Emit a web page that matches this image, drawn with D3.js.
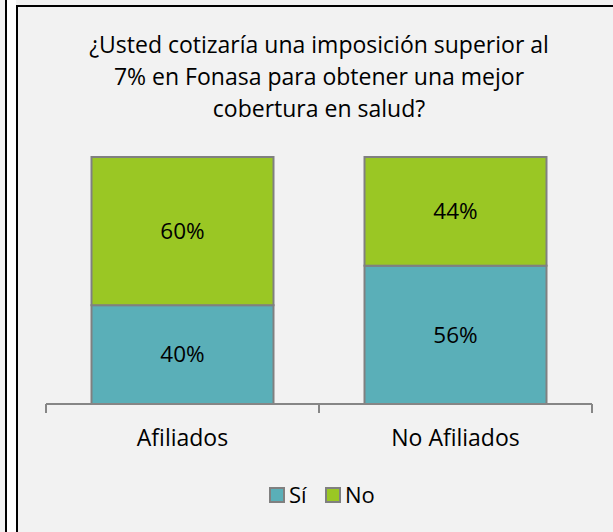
<!DOCTYPE html>
<html>
<head>
<meta charset="utf-8">
<script src="https://cdn.jsdelivr.net/npm/d3@7"></script>
<style>
  html, body { margin: 0; padding: 0; background: #f2f2f2; }
  svg { display: block; font-family: "Open Sans", sans-serif; }
</style>
</head>
<body>
<div id="chart"></div>
<script>
// chart data
const titleLines = ['¿Usted cotizaría una imposición superior al', '7% en Fonasa para obtener una mejor', 'cobertura en salud?'];
const categories = ['Afiliados', 'No Afiliados'];
const seriesNames = ['Sí', 'No'];
const siValues = [0.40, 0.56];
const noValues = [0.60, 0.44];
const colors = ['#5aafb8', '#9ac724'];

const W = 613, H = 532;
const margin = {top: 157, right: 21, bottom: 128, left: 46};
const width = W - margin.left - margin.right;
const height = H - margin.top - margin.bottom;

const svg = d3.select('#chart').append('svg')
  .attr('width', W)
  .attr('height', H);

// frame bits on the left / top
svg.append('rect').attr('x', 7).attr('y', 0).attr('width', 9).attr('height', H).attr('fill', '#ffffff');
svg.append('line').attr('x1', 6).attr('x2', 6).attr('y1', 0).attr('y2', H)
  .attr('stroke', '#000').attr('stroke-width', 2);
svg.append('line').attr('x1', 17).attr('x2', 17).attr('y1', 5).attr('y2', H)
  .attr('stroke', '#000').attr('stroke-width', 2);
svg.append('line').attr('x1', 16).attr('x2', W).attr('y1', 6).attr('y2', 6)
  .attr('stroke', '#000').attr('stroke-width', 2);

// title
svg.append('text')
  .attr('text-anchor', 'middle')
  .attr('font-size', 23)
  .attr('fill', '#000')
  .selectAll('tspan')
  .data(titleLines)
  .join('tspan')
  .attr('x', 319)
  .attr('y', (d, i) => 53 + i * 32)
  .text(d => d);

const g = svg.append('g')
  .attr('transform', 'translate(' + margin.left + ',' + margin.top + ')');

const x = d3.scaleBand()
  .domain(categories)
  .range([0, width])
  .paddingInner(1 / 3)
  .paddingOuter(1 / 6);

const y = d3.scaleLinear()
  .domain([0, 1])
  .range([height, 0]);

const table = categories.map((c, i) => ({cat: c, 'Sí': siValues[i], 'No': noValues[i]}));
const stacked = d3.stack().keys(seriesNames)(table);

const layers = g.selectAll('.layer')
  .data(stacked)
  .join('g')
  .attr('class', 'layer')
  .attr('fill', (d, i) => colors[i]);

layers.selectAll('rect')
  .data(d => d)
  .join('rect')
  .attr('x', d => x(d.data.cat))
  .attr('y', d => y(d[1]))
  .attr('width', x.bandwidth())
  .attr('height', d => y(d[0]) - y(d[1]))
  .attr('stroke', '#808080')
  .attr('stroke-width', 2);

layers.selectAll('text')
  .data(d => d)
  .join('text')
  .attr('x', d => x(d.data.cat) + x.bandwidth() / 2)
  .attr('y', d => (y(d[0]) + y(d[1])) / 2)
  .attr('dy', '0.35em')
  .attr('text-anchor', 'middle')
  .attr('font-size', 22.5)
  .attr('fill', '#000')
  .text(d => d3.format('.0%')(d[1] - d[0]));

// category axis with ticks between bands
const axis = g.append('g').attr('transform', 'translate(0,' + height + ')');
axis.append('line')
  .attr('x1', 0).attr('x2', width)
  .attr('stroke', '#868686').attr('stroke-width', 2);
const tickPos = [0].concat(categories.map(c => x(c) + x.bandwidth() + x.step() * x.paddingInner() / 2));
tickPos[tickPos.length - 1] = width;
axis.selectAll('.tick')
  .data(tickPos)
  .join('line')
  .attr('class', 'tick')
  .attr('x1', d => d).attr('x2', d => d)
  .attr('y1', 0).attr('y2', 9)
  .attr('stroke', '#868686').attr('stroke-width', 2);
axis.selectAll('.cat')
  .data(categories)
  .join('text')
  .attr('class', 'cat')
  .attr('x', d => x(d) + x.bandwidth() / 2)
  .attr('y', 42)
  .attr('text-anchor', 'middle')
  .attr('font-size', 23)
  .text(d => d);

// legend
const legend = svg.append('g').attr('transform', 'translate(270,488)');
const items = legend.selectAll('g')
  .data(seriesNames)
  .join('g')
  .attr('transform', (d, i) => 'translate(' + (i * 56) + ',0)');
items.append('rect')
  .attr('width', 14).attr('height', 14)
  .attr('fill', (d, i) => colors[i])
  .attr('stroke', '#808080').attr('stroke-width', 2);
items.append('text')
  .attr('x', 19).attr('y', 15)
  .attr('font-size', 22)
  .text(d => d);
</script>
</body>
</html>
